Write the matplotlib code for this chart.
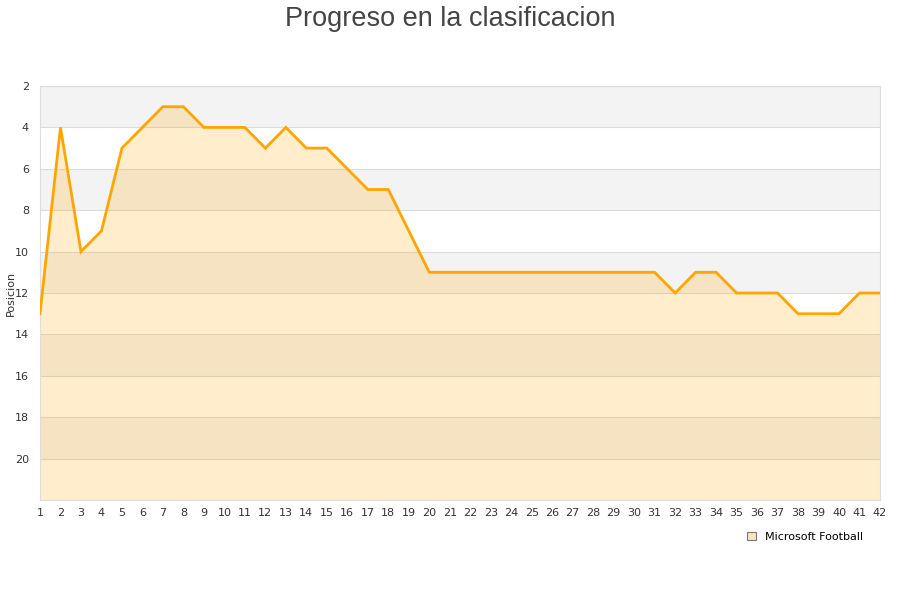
import matplotlib
matplotlib.use("Agg")
import matplotlib.pyplot as plt
from matplotlib.patches import Patch

jornadas = list(range(1, 43))
posicion = [13, 4, 10, 9, 5, 4, 3, 3, 4, 4, 4, 5, 4, 5, 5, 6, 7, 7, 9, 11,
            11, 11, 11, 11, 11, 11, 11, 11, 11, 11, 11, 12, 11, 11, 12, 12, 12, 13, 13, 13,
            12, 12]
y_ticks = [2, 4, 6, 8, 10, 12, 14, 16, 18, 20]
serie = "Microsoft Football"
titulo = "Progreso en la clasificacion"

fig = plt.figure(figsize=(9, 6), dpi=100)
ax = fig.add_axes([40/900, 1-500/600, 840/900, 414/600])

# alternating bands
for lo in range(2, 22, 4):
    ax.axhspan(lo, lo + 2, color="#f3f3f3", zorder=0, lw=0)
for t in y_ticks:
    ax.axhline(t, color="#dcdcdc", lw=0.8, zorder=1)

ax.fill_between(jornadas, posicion, 22, color="#FFA500", alpha=0.2, lw=0, zorder=2)
ax.plot(jornadas, posicion, color="#FFA500", lw=2.0, zorder=3, solid_joinstyle="miter")

ax.set_xlim(1, 42)
ax.set_ylim(22, 2)
ax.set_xticks(jornadas)
ax.set_yticks(y_ticks)
ax.tick_params(axis="both", length=0, labelsize=8, colors="#333333", pad=6)
ax.tick_params(axis="y", pad=8)
for s in ax.spines.values():
    s.set_color("#dddddd")
    s.set_linewidth(0.8)

fig.text(11/900, 1-293/600, "Posicion", rotation=90, ha="center", va="center",
         fontsize=8, color="#333333")

fig.text(0.5, 0.99, titulo, ha="center", va="top", fontsize=19.5,
         family="Liberation Sans", color="#444444")

handle = Patch(facecolor="#fde5c0", edgecolor="#777777", lw=0.8)
fig.legend([handle], [serie], loc="center right", bbox_to_anchor=(0.965, 1-537/600),
           frameon=False, fontsize=8, handlelength=0.8, handleheight=0.8,
           handletextpad=0.8, borderpad=0)

fig.savefig("out.png", dpi=100)
